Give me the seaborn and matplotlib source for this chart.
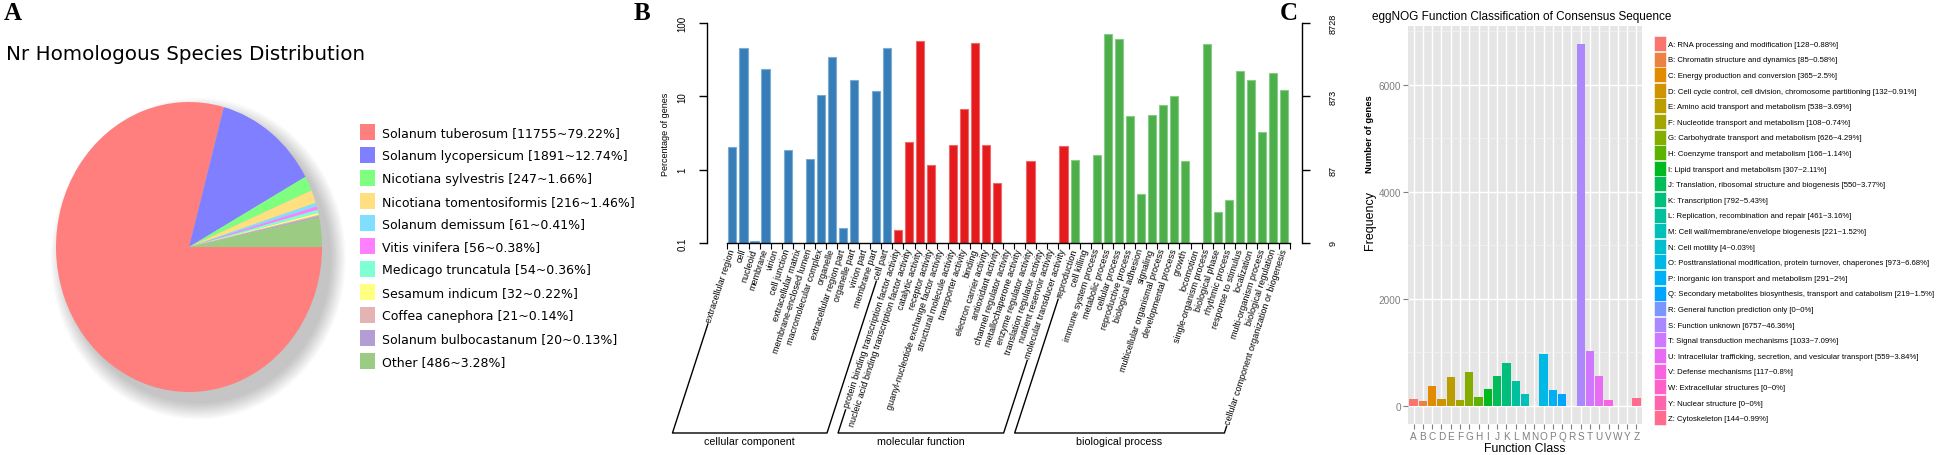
import numpy as np
import pandas as pd
import matplotlib
matplotlib.use("Agg")
import matplotlib.pyplot as plt
import seaborn as sns
from matplotlib.patches import Patch, Ellipse, Rectangle
from matplotlib.lines import Line2D
from matplotlib.ticker import NullLocator, FixedLocator
from matplotlib.legend_handler import HandlerPatch
from matplotlib import font_manager as fm
from matplotlib.colors import to_hex, to_rgb

W, H = 1942, 456

# ---------------- Panel A data ----------------
species_names = ["Solanum tuberosum", "Solanum lycopersicum", "Nicotiana sylvestris",
                 "Nicotiana tomentosiformis", "Solanum demissum", "Vitis vinifera",
                 "Medicago truncatula", "Sesamum indicum", "Coffea canephora",
                 "Solanum bulbocastanum", "Other"]
species_counts = [11755, 1891, 247, 216, 61, 56, 54, 32, 21, 20, 486]
species_pcts = [79.22, 12.74, 1.66, 1.46, 0.41, 0.38, 0.36, 0.22, 0.14, 0.13, 3.28]
species_colors = ["#FF7F7F", "#7F7FFF", "#7FFF7F", "#FFDF80", "#80DFFF", "#FF80FF",
                  "#80FFD4", "#FFFF80", "#E4B4B4", "#B39DD3", "#9CCB83"]

# ---------------- Panel B data ----------------
cc_terms = ["extracellular region", "cell", "nucleoid", "membrane", "virion", "cell junction",
            "extracellular matrix", "membrane-enclosed lumen", "macromolecular complex",
            "organelle", "extracellular region part", "organelle part", "virion part",
            "membrane part", "cell part"]
cc_pct = [2.04, 46.1, 0.105, 23.3, 0, 1.87, 0, 1.38, 10.5, 34.8, 0.16, 16.9, 0, 11.8, 46.1]
mf_terms = ["protein binding transcription factor activity",
            "nucleic acid binding transcription factor activity", "catalytic activity",
            "receptor activity", "guanyl-nucleotide exchange factor activity",
            "structural molecule activity", "transporter activity", "binding",
            "electron carrier activity", "antioxidant activity", "channel regulator activity",
            "metallochaperone activity", "enzyme regulator activity",
            "translation regulator activity", "nutrient reservoir activity",
            "molecular transducer activity"]
mf_pct = [0.149, 2.38, 56.2, 1.16, 0, 2.17, 6.65, 53.4, 2.15, 0.665, 0, 0, 1.33, 0, 0, 2.08]
bp_terms = ["reproduction", "cell killing", "immune system process", "metabolic process",
            "cellular process", "reproductive process", "biological adhesion", "signaling",
            "multicellular organismal process", "developmental process", "growth",
            "locomotion", "single-organism process", "biological phase", "rhythmic process",
            "response to stimulus", "localization", "multi-organism process",
            "biological regulation", "cellular component organization or biogenesis"]
bp_pct = [1.34, 0, 1.57, 70.0, 61.1, 5.34, 0.466, 5.56, 7.62, 10.1, 1.30, 0, 51.7, 0.262,
          0.386, 21.9, 16.7, 3.23, 20.8, 12.3]
go_groups = ["cellular component", "molecular function", "biological process"]
go_colors = ["#377EB8", "#E41A1C", "#4DAF4A"]
go_total_genes = 8728
go_pct_ticks = [0.1, 1, 10, 100]
go_pct_ticklabels = ["0.1", "1", "10", "100"]

# ---------------- Panel C data ----------------
cog_letters = list("ABCDEFGHIJKLMNOPQRSTUVWYZ")
cog_names = ["RNA processing and modification", "Chromatin structure and dynamics",
             "Energy production and conversion",
             "Cell cycle control, cell division, chromosome partitioning",
             "Amino acid transport and metabolism", "Nucleotide transport and metabolism",
             "Carbohydrate transport and metabolism", "Coenzyme transport and metabolism",
             "Lipid transport and metabolism",
             "Translation, ribosomal structure and biogenesis", "Transcription",
             "Replication, recombination and repair",
             "Cell wall/membrane/envelope biogenesis", "Cell motility",
             "Posttranslational modification, protein turnover, chaperones",
             "Inorganic ion transport and metabolism",
             "Secondary metabolites biosynthesis, transport and catabolism",
             "General function prediction only", "Function unknown",
             "Signal transduction mechanisms",
             "Intracellular trafficking, secretion, and vesicular transport",
             "Defense mechanisms", "Extracellular structures", "Nuclear structure",
             "Cytoskeleton"]
cog_counts = [128, 85, 365, 132, 538, 108, 626, 166, 307, 550, 792, 461, 221, 4, 973, 291,
              219, 0, 6757, 1033, 559, 117, 0, 0, 144]
cog_pcts = [0.88, 0.58, 2.5, 0.91, 3.69, 0.74, 4.29, 1.14, 2.11, 3.77, 5.43, 3.16, 1.52,
            0.03, 6.68, 2, 1.5, 0, 46.36, 7.09, 3.84, 0.8, 0, 0, 0.99]
cog_yticks = [0, 2000, 4000, 6000]


# ---------------- helpers ----------------
def font_ok(name):
    try:
        fm.findfont(fm.FontProperties(family=name), fallback_to_default=False)
        return True
    except Exception:
        return False


SANS = "Liberation Sans" if font_ok("Liberation Sans") else "DejaVu Sans"
NARROW = "Liberation Sans Narrow" if font_ok("Liberation Sans Narrow") else SANS
SERIF = "Liberation Serif" if font_ok("Liberation Serif") else "DejaVu Serif"


def hcl_hex(h, c=100.0, l=65.0):
    xn, yn, zn = 95.047, 100.0, 108.883
    hr = np.deg2rad(h)
    U, V = c * np.cos(hr), c * np.sin(hr)
    Y = yn * ((l + 16) / 116) ** 3 if l > 8 else yn * l / 903.3
    d = xn + 15 * yn + 3 * zn
    un, vn = 4 * xn / d, 9 * yn / d
    u = U / (13 * l) + un
    v = V / (13 * l) + vn
    X = Y * 9 * u / (4 * v)
    Z = Y * (12 - 3 * u - 20 * v) / (4 * v)
    X, Y, Z = X / 100, Y / 100, Z / 100
    r = 3.240479 * X - 1.537150 * Y - 0.498535 * Z
    g = -0.969256 * X + 1.875992 * Y + 0.041556 * Z
    b = 0.055648 * X - 0.204043 * Y + 1.057311 * Z

    def gam(t):
        return 12.92 * t if t <= 0.0031308 else 1.055 * t ** (1 / 2.4) - 0.055
    return to_hex([min(1, max(0, gam(t))) for t in (r, g, b)])


def lighten(col, f=0.4):
    r, g, b = to_rgb(col)
    return (r + (1 - r) * f, g + (1 - g) * f, b + (1 - b) * f)


fig = plt.figure(figsize=(W / 100, H / 100), dpi=100)
fig.patch.set_facecolor("white")

# ======================= Panel A: pie =======================
axA = fig.add_axes([56 / W, 1 - 393 / H, (322 - 56) / W, (393 - 103) / H])
for i in range(10):
    axA.add_patch(Ellipse((0.07, -0.08), 2.0 + 0.024 * i, 2.0 + 0.024 * i,
                          facecolor="black", alpha=0.022, lw=0, zorder=0, clip_on=False))
axA.pie(species_counts, colors=species_colors, startangle=0, counterclock=False,
        radius=1, wedgeprops=dict(linewidth=0, zorder=2))
axA.set_aspect("auto")
axA.set_xlim(-1, 1)
axA.set_ylim(-1, 1)
axA.axis("off")

fig.text(6 / W, 1 - 55 / H, "Nr Homologous Species Distribution", fontsize=14.3,
         family="DejaVu Sans", ha="left", va="center")
handlesA = [Patch(facecolor=c, edgecolor="none") for c in species_colors]
labelsA = [f"{n} [{c}~{p:.2f}%]" for n, c, p in zip(species_names, species_counts, species_pcts)]
fig.legend(handlesA, labelsA, loc="upper left", bbox_to_anchor=(360 / W, 1 - 125 / H),
           bbox_transform=fig.transFigure, frameon=False, borderpad=0, borderaxespad=0,
           handlelength=1.2, handleheight=1.59, handletextpad=0.55, labelspacing=0.55,
           prop=dict(family="DejaVu Sans", size=9))

# ======================= Panel B: GO bars =======================
go_terms = cc_terms + mf_terms + bp_terms
go_pct = cc_pct + mf_pct + bp_pct
go_group = ([go_groups[0]] * len(cc_terms) + [go_groups[1]] * len(mf_terms)
            + [go_groups[2]] * len(bp_terms))
nB = len(go_terms)
dfB = pd.DataFrame({"term": go_terms, "pct": go_pct, "group": go_group})
dfB_nz = dfB[dfB["pct"] > 0]

axB = fig.add_axes([707 / W, 1 - 244 / H, (1302 - 707) / W, (244 - 24) / H])
axB.set_yscale("log", nonpositive="clip")
sns.barplot(data=dfB_nz, x="term", y="pct", hue="group", order=go_terms,
            hue_order=go_groups, palette=dict(zip(go_groups, go_colors)), dodge=False,
            width=0.74, saturation=1, legend=False, ax=axB)
for p in axB.patches:
    p.set_edgecolor(lighten(p.get_facecolor(), 0.35))
    p.set_linewidth(0.8)
axB.set_xlim(-2.3, nB - 1 + 1.6)
axB.set_ylim(go_pct_ticks[0], go_pct_ticks[-1])
axB.set_xlabel("")
axB.set_ylabel("")
for s in ["top", "right"]:
    axB.spines[s].set_visible(False)
axB.spines["bottom"].set_bounds(-0.5, nB - 0.5)
axB.spines["left"].set_linewidth(1.0)
axB.spines["bottom"].set_linewidth(1.0)
axB.yaxis.set_major_locator(FixedLocator(go_pct_ticks))
axB.yaxis.set_minor_locator(NullLocator())
axB.set_yticklabels(go_pct_ticklabels, rotation=90, va="center", family=SANS, fontsize=7)
axB.tick_params(axis="y", which="major", length=6, width=1.0, pad=8)
ROT = 72
axB.set_xticks(range(nB))
axB.set_xticklabels(go_terms, rotation=ROT, ha="right", va="center",
                    rotation_mode="anchor", family=SANS, fontsize=6.5)
axB.xaxis.set_minor_locator(FixedLocator(np.arange(-0.5, nB)))
axB.tick_params(axis="x", which="major", length=0, pad=4)
axB.tick_params(axis="x", which="minor", length=4.5, width=0.8, direction="out")
axB.text(-0.07, 0.5, "Percentage of genes", transform=axB.transAxes, rotation=90,
         ha="center", va="center", fontsize=6.5, family=SANS)

axB2 = axB.twinx()
axB2.set_yscale("log", nonpositive="clip")
gene_ticks = [v * go_total_genes / 100 for v in go_pct_ticks]
axB2.set_ylim(gene_ticks[0], gene_ticks[-1])
axB2.yaxis.set_major_locator(FixedLocator(gene_ticks))
axB2.yaxis.set_minor_locator(NullLocator())
axB2.set_yticklabels([f"{round(v)}" for v in gene_ticks], rotation=90, va="center",
                     family=SANS, fontsize=6.6)
axB2.tick_params(axis="y", which="major", length=6, width=1.0, pad=13)
for s in ["top", "left", "bottom"]:
    axB2.spines[s].set_visible(False)
axB2.spines["right"].set_linewidth(1.0)
axB2.text(1.113, 0.5, "Number of genes", transform=axB.transAxes, rotation=90,
          ha="center", va="center", fontsize=6.8, family=SANS, fontweight="bold")

# ======================= Panel C: eggNOG bars =======================
nC = len(cog_letters)
hues = np.linspace(15, 375, nC + 1)[:-1]
cog_colors = [hcl_hex(h) for h in hues]
dfC = pd.DataFrame({"letter": cog_letters, "count": cog_counts})
axC = fig.add_axes([1408 / W, 1 - 425 / H, (1642 - 1408) / W, (425 - 27) / H])
sns.barplot(data=dfC, x="letter", y="count", hue="letter", order=cog_letters,
            hue_order=cog_letters, palette=cog_colors, width=0.9, saturation=1,
            legend=False, ax=axC)
ypad = 0.05 * max(cog_counts)
axC.set_ylim(-ypad, max(cog_counts) + ypad)
axC.set_xlim(-0.6, nC - 1 + 0.6)
axC.set_facecolor("#E5E5E5")
for s in axC.spines.values():
    s.set_visible(False)
axC.set_axisbelow(True)
axC.set_yticks(cog_yticks)
axC.set_yticklabels([str(v) for v in cog_yticks], family=NARROW)
axC.yaxis.set_minor_locator(FixedLocator(np.arange(1000, max(cog_counts) + ypad, 2000)))
axC.grid(which="major", axis="both", color="white", linewidth=1.0)
axC.grid(which="minor", axis="y", color="#F2F2F2", linewidth=0.5)
axC.tick_params(which="minor", length=0)
axC.tick_params(axis="both", which="major", colors="#7F7F7F", length=3.5, width=0.8,
                labelsize=7.2, pad=1.5)
for t in axC.get_xticklabels():
    t.set_family(NARROW)
axC.set_xlabel("Function Class", family=NARROW, fontsize=8.8, labelpad=1)
axC.set_ylabel("")
axC.text(-0.162, 0.515, "Frequency", transform=axC.transAxes, rotation=90, ha="center",
         va="center", fontsize=9, family=NARROW)
fig.text(1372 / W, 1 - 17 / H, "eggNOG Function Classification of Consensus Sequence",
         fontsize=8.5, family=NARROW, ha="left", va="center")


def full_key(legend, orig_handle, xdescent, ydescent, width, height, fontsize):
    return Rectangle((-xdescent, -ydescent), width, height)


handlesC = [Patch(facecolor=c, edgecolor="white", linewidth=0.4) for c in cog_colors]
labelsC = [f"{l}: {n} [{c}~{p:g}%]" for l, n, c, p in
           zip(cog_letters, cog_names, cog_counts, cog_pcts)]
fszC = 5.6
fs_px = fszC * 100 / 72
key_hh = (15.0 / fs_px - 0.245) / 0.65
fig.legend(handlesC, labelsC, loc="upper left", bbox_to_anchor=(1654 / W, 1 - 37 / H),
           bbox_transform=fig.transFigure, frameon=False, borderpad=0, borderaxespad=0,
           handlelength=12.0 / fs_px, handleheight=key_hh, handletextpad=0.3,
           labelspacing=0.6 / fs_px, prop=dict(family=NARROW, size=fszC),
           handler_map={Patch: HandlerPatch(patch_func=full_key)})

# ======================= panel letters =======================
for letter, x, y in [("A", 4, 13), ("B", 634, 14), ("C", 1280, 14)]:
    fig.text(x / W, 1 - y / H, letter, fontsize=18, fontweight="bold", family=SERIF,
             ha="left", va="center")

# ======================= GO group brackets =======================
fig.canvas.draw()
rend = fig.canvas.get_renderer()
labs = axB.get_xticklabels()
th = np.deg2rad(ROT)
cth, sth = np.cos(th), np.sin(th)
base_y = H - 434
inv = fig.transFigure.inverted()


def label_start(lbl):
    bb = lbl.get_window_extent(rend)
    det = cth * cth - sth * sth
    hh = (bb.height * cth - bb.width * sth) / det
    xs = bb.x0 + hh * sth / 2
    ys = bb.y0 + hh * cth / 2
    return xs - 3 * cth, ys - 3 * sth


def down_to_base(pt):
    x, y = pt
    return x - (y - base_y) * cth / sth, base_y


starts = [0, len(cc_terms), len(cc_terms) + len(mf_terms)]
ends = [len(cc_terms) - 1, len(cc_terms) + len(mf_terms) - 1, nB - 1]
for g, i0, i1 in zip(go_groups, starts, ends):
    lt = label_start(labs[i0])
    rt = label_start(labs[i1])
    lb = down_to_base(lt)
    rb = down_to_base(rt)
    pts = inv.transform(np.array([lt, lb, rb, rt]))
    fig.add_artist(Line2D(pts[:, 0], pts[:, 1], transform=fig.transFigure, color="black",
                          lw=1.0))
    cx = inv.transform([((lb[0] + rb[0]) / 2, H - 442)])[0]
    fig.text(cx[0], cx[1], g, ha="center", va="center", fontsize=7.7, family=SANS)

fig.savefig("out.png", dpi=100)
